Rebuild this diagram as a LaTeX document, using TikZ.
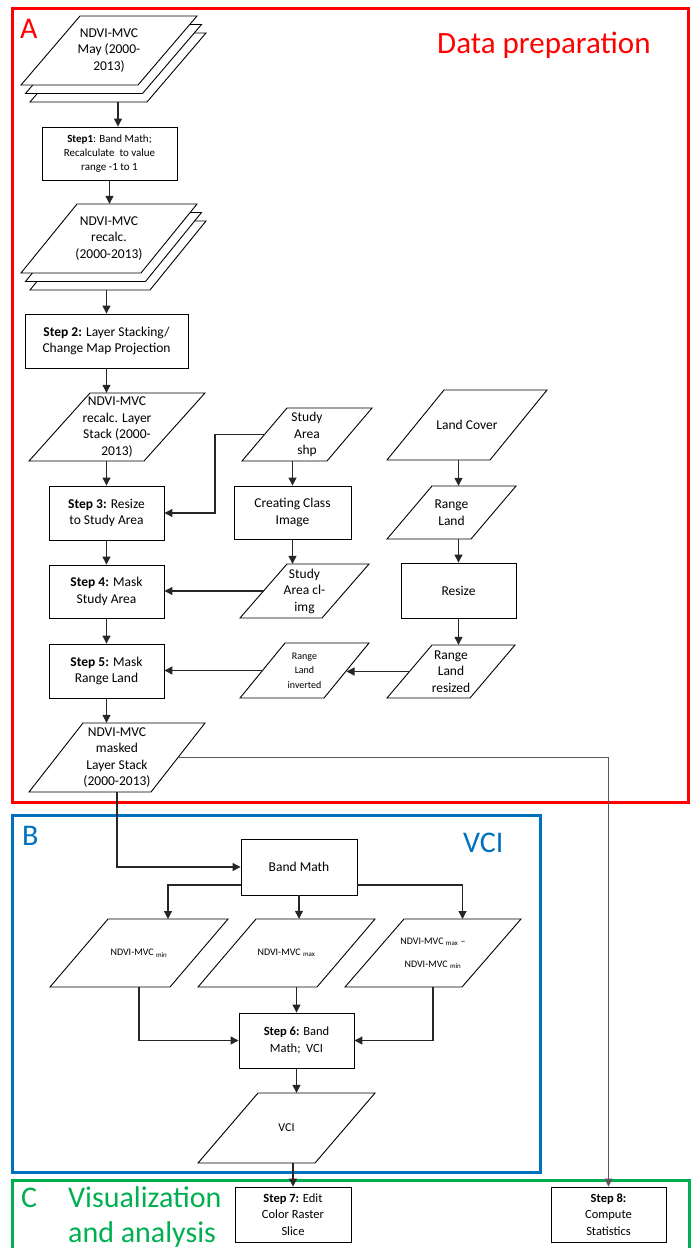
\documentclass[tikz,border=0pt]{standalone}
\usepackage{fontspec}
\setmainfont{Carlito}
\usetikzlibrary{arrows.meta,calc}
\definecolor{cRed}{RGB}{255,0,0}
\definecolor{cBlue}{RGB}{0,112,192}
\definecolor{cGreen}{RGB}{0,176,80}
\newcommand{\fs}[2]{\fontsize{#1}{#2}\selectfont}
% parallelogram: [font opts]{name}{cx}{cy}{W}{H}{slant}{text}
\newcommand{\pgram}[8][]{%
  \filldraw[outl] ({#3-#5/2+#7},{#4-#6/2}) -- ({#3+#5/2},{#4-#6/2}) -- ({#3+#5/2-#7},{#4+#6/2}) -- ({#3-#5/2},{#4+#6/2}) -- cycle;
  \node[ptext, minimum width=#5, minimum height=#6, #1] (#2) at (#3,#4) {#8};
  \coordinate (#2-l) at ({#3-#5/2+#7/2},#4);
  \coordinate (#2-r) at ({#3+#5/2-#7/2},#4);
  \coordinate (#2-t) at ({#3+#7/2},{#4-#6/2});
}
\begin{document}
\begin{tikzpicture}[x=1pt,y=-1pt,
  outl/.style={draw=black, fill=white, line width=0.9pt},
  ptext/.style={inner sep=0pt, align=center, font=\fs{13.5}{16.5}},
  box/.style={draw=black, fill=white, line width=0.9pt, inner sep=0pt, align=center, font=\fs{13.5}{16.5}},
  arr/.style={draw=black!85, line width=1.2pt, -{Triangle[length=8pt,width=8pt]}},
  frame/.style={line width=3pt},
  ttl/.style={font=\fs{30}{35}, anchor=base west, inner sep=0pt}]
\useasboundingbox (0,0) rectangle (692,1248);
\clip (0,0) rectangle (692,1248);

% frames
\draw[frame, cRed] (12,8) rectangle (688,802);
\draw[frame, cBlue] (12,815) rectangle (540,1172);
\draw[frame, cGreen] (12,1180) rectangle (689,1262);

% titles
\node[ttl, text=cRed] (lA) at (20,38) {A};
\node[ttl, text=cRed, font=\fs{31}{36}] (lDP) at (437,53) {Data preparation};
\node[ttl, text=cBlue] (lB) at (22,845) {B};
\node[ttl, text=cBlue] (lVCI) at (463,852) {VCI};
\node[ttl, text=cGreen] (lC) at (21,1207) {C};
\node[ttl, text=cGreen] (lV1) at (68,1207) {Visualization};
\node[ttl, text=cGreen] (lV2) at (68,1242) {and analysis};

% column A left
\pgram{p1c}{118}{67.5}{176}{69}{59}{}
\pgram{p1b}{113.5}{59}{176}{69}{59}{}
\pgram{p1}{109}{50.5}{176}{69}{59}{NDVI-MVC\\May (2000-\\2013)}
\node[box, font=\fs{11}{14}, minimum width=135, minimum height=53] (s1) at (109.5,153.5) {\textbf{Step1}: Band Math;\\Recalculate\ \ to value\\range -1 to 1};
\pgram{p2c}{118}{255.5}{176}{69}{56}{}
\pgram{p2b}{113.5}{247}{176}{69}{56}{}
\pgram{p2}{109}{238.5}{176}{69}{56}{NDVI-MVC\\recalc.\\(2000-2013)}
\node[box, minimum width=163, minimum height=54] (s2) at (106.5,341) {\textbf{Step 2:} Layer Stacking/\\Change Map Projection};
\pgram{p3}{117}{427}{176}{68}{61}{NDVI-MVC\\recalc. Layer\\Stack (2000-\\2013)}
\node[box, minimum width=115, minimum height=54] (s3) at (106.5,513) {\textbf{Step 3:} Resize\\to Study Area};
\node[box, minimum width=115, minimum height=53] (s4) at (106.5,591.5) {\textbf{Step 4:} Mask\\Study Area};
\node[box, minimum width=115, minimum height=54] (s5) at (106.5,671) {\textbf{Step 5:} Mask\\Range Land};
\pgram{p4}{117}{757.5}{176}{69}{54}{NDVI-MVC\\masked\\Layer Stack\\(2000-2013)}

% column A middle / right
\pgram{shp}{307}{434.5}{130}{53}{45}{Study\\Area\\shp}
\node[box, minimum width=117, minimum height=53] (cci) at (292.5,512.5) {Creating Class\\Image};
\pgram{climg}{304.5}{591}{129}{54}{47}{Study\\Area cl-\\img}
\pgram{lc}{467}{425}{160}{70}{57}{Land Cover}
\pgram{rl}{451.5}{512.5}{129}{53}{45}{Range\\Land}
\node[box, minimum width=115, minimum height=55] (rs) at (458.5,590.5) {Resize};
\pgram{rsz}{451}{671.5}{128}{53}{45}{Range\\Land\\resized}
\pgram[font=\fs{10}{14.5}]{inv}{304.5}{670.5}{129}{55}{45}{Range\\Land\\inverted}

% section B
\node[box, minimum width=116, minimum height=56] (bm) at (299,867) {Band Math};
\pgram[font=\fs{10}{12}]{vmin}{139}{953}{178}{68}{58}{NDVI-MVC \textsubscript{min}}
\pgram[font=\fs{10}{12}]{vmax}{286.5}{953}{177}{68}{58}{NDVI-MVC \textsubscript{max}}
\pgram[font=\fs{10}{23}]{vdiff}{433}{953}{176}{68}{59}{NDVI-MVC \textsubscript{max} --\\NDVI-MVC \textsubscript{min}}
\node[box, font=\fs{12.5}{16.5}, minimum width=115, minimum height=55] (s6) at (296.5,1040.5) {\textbf{Step 6:} Band\\Math;\ \ VCI};
\pgram[font=\fs{12}{15}]{vci}{286.5}{1128}{177}{70}{60}{VCI}

% section C
\node[box, font=\fs{12.5}{16.5}, minimum width=116, minimum height=55] (s7) at (293,1214.5) {\textbf{Step 7:} Edit\\Color Raster\\Slice};
\node[box, font=\fs{12.5}{16.5}, minimum width=115, minimum height=55] (s8) at (608.5,1214.5) {\textbf{Step 8:}\\Compute\\Statistics};

% connectors
\coordinate (j1) at (215,433);
\draw[arr] (p1c.south) -- (p1c.south |- s1.north);
\draw[arr] (s1.south) -- (s1.south |- p2.north);
\draw[arr] (s2.north |- p2c.south) -- (s2.north);
\draw[arr] (s2.south) -- (s2.south |- p3.north);
\draw[arr] (s3.north |- p3.south) -- (s3.north);
\draw[arr] (s3.south) -- (s4.north);
\draw[arr] (s4.south) -- (s5.north);
\draw[arr] (s5.south) -- (s5.south |- p4.north);
\draw[arr] (shp-l) -- (shp-l -| j1) |- (s3.east);
\draw[arr] (cci.north |- shp.south) -- (cci.north);
\draw[arr] (cci.south) -- (cci.south |- climg.north);
\draw[arr] (climg-l) -- (climg-l -| s4.east);
\draw[arr] (rs.north |- lc.south) -- (rs.north |- rl.north);
\draw[arr] (rs.north |- rl.south) -- (rs.north);
\draw[arr] (rs.south) -- (rs.south |- rsz.north);
\draw[arr] (rsz-l) -- (rsz-l -| inv-r);
\draw[arr] (inv-l) -- (inv-l -| s5.east);
\draw[arr] (p4.south) |- (bm.west);
\draw[arr, draw=black!65] (p4-r) -| (s8.north);
\draw[arr] ([yshift=-18pt]bm.west) -| (vmin-t);
\draw[arr] (bm.south) -- (bm.south |- vmax.north);
\draw[arr] ([yshift=-18pt]bm.east) -| (vdiff-t);
\draw[arr] (vmin.south) |- (s6.west);
\draw[arr] (s6.north |- vmax.south) -- (s6.north);
\draw[arr] (vdiff.south) |- (s6.east);
\draw[arr] (s6.south) -- (s6.south |- vci.north);
\draw[arr] (s7.north |- vci.south) -- (s7.north);
\end{tikzpicture}
\end{document}
